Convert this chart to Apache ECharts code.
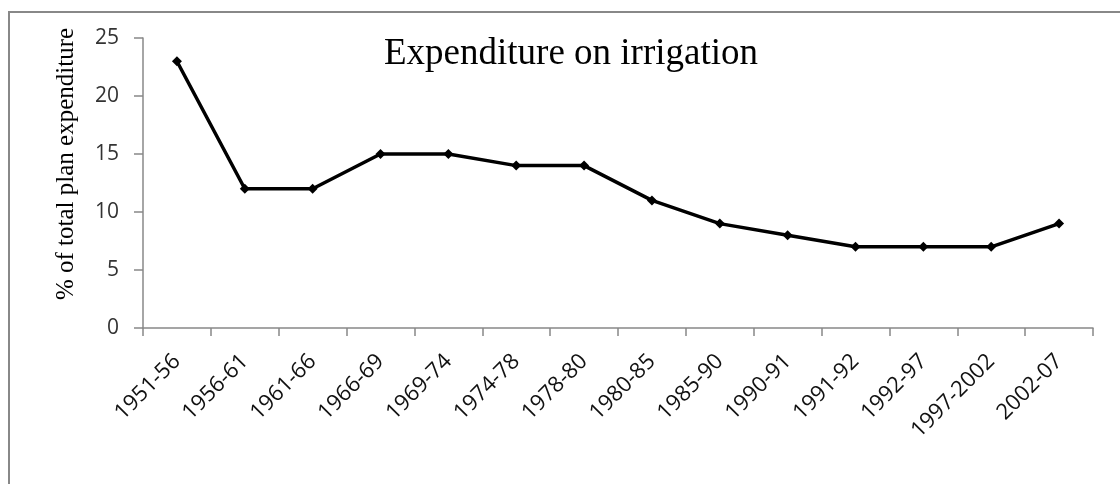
<!DOCTYPE html>
<html>
<head>
<meta charset="utf-8">
<script src="https://cdn.jsdelivr.net/npm/echarts@6/dist/echarts.min.js"></script>
<style>
html,body{margin:0;padding:0;background:#fff;}
#chart{width:1120px;height:484px;}
</style>
</head>
<body>
<div id="chart"></div>
<script>
const categories = ['1951-56','1956-61','1961-66','1966-69','1969-74','1974-78','1978-80','1980-85','1985-90','1990-91','1991-92','1992-97','1997-2002','2002-07'];
const irrigationShare = [23, 12, 12, 15, 15, 14, 14, 11, 9, 8, 7, 7, 7, 9];
const yTicks = { min: 0, max: 25, interval: 5 };
const titleText = 'Expenditure on irrigation';
const yAxisTitle = '% of total plan expenditure';

const chart = echarts.init(document.getElementById('chart'));
chart.setOption({
  animation: false,
  backgroundColor: '#fff',
  title: {
    text: titleText,
    left: 566, top: 31, textAlign: 'center',
    textStyle: { fontFamily: 'Liberation Serif', fontSize: 37, fontWeight: 'normal', color: '#000' }
  },
  graphic: [
    { type: 'rect', shape: { x: 9, y: 12, width: 1130, height: 500 }, style: { fill: 'none', stroke: '#888', lineWidth: 2 }, silent: true },
    { type: 'text', x: 66, y: 164, rotation: Math.PI / 2, style: { text: yAxisTitle, fontFamily: 'Liberation Serif', fontSize: 25, fill: '#000', textAlign: 'center', textVerticalAlign: 'middle' } }
  ],
  grid: { left: 143, right: 27, top: 38, bottom: 156, containLabel: false },
  xAxis: {
    type: 'category',
    data: categories,
    boundaryGap: true,
    axisLine: { lineStyle: { color: '#888', width: 1.5 } },
    axisTick: { show: true, length: 8, alignWithLabel: false, lineStyle: { color: '#888', width: 1.5 } },
    axisLabel: { rotate: 45, fontFamily: 'Open Sans', fontSize: 22, color: '#111', margin: 30, interval: 0 },
    splitLine: { show: false }
  },
  yAxis: {
    type: 'value',
    min: yTicks.min, max: yTicks.max, interval: yTicks.interval,
    axisLine: { show: true, lineStyle: { color: '#888', width: 1.5 } },
    axisTick: { show: true, length: 9, lineStyle: { color: '#888', width: 1.5 } },
    axisLabel: { fontFamily: 'Open Sans', fontSize: 21, color: '#333', margin: 24 },
    splitLine: { show: false }
  },
  series: [{
    type: 'line',
    data: irrigationShare,
    symbol: 'diamond',
    symbolSize: 10,
    lineStyle: { color: '#000', width: 3.5 },
    itemStyle: { color: '#000' }
  }]
});
</script>
</body>
</html>
